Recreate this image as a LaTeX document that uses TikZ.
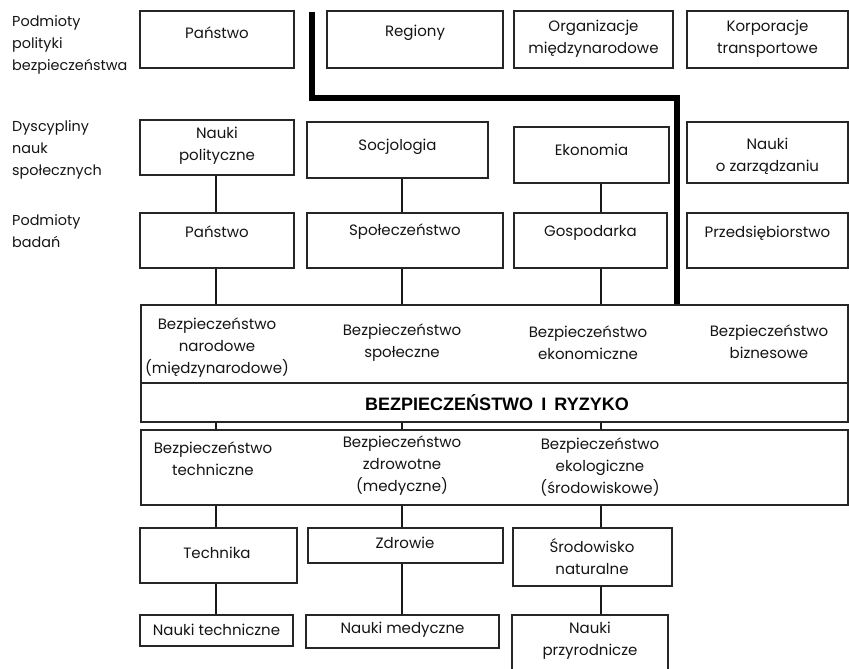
\documentclass[tikz,border=0pt]{standalone}
\usepackage{fontspec}
\setmainfont{Poppins}
\newfontfamily\headfont{Liberation Sans}
\begin{document}
\begin{tikzpicture}[x=1pt,y=-1pt,
  box/.style={draw=black!85, line width=1.1pt, inner sep=0pt},
  txt/.style={align=center, inner sep=0pt, text=black!92,
    font=\fontsize{15}{22}\selectfont},
  side/.style={txt, align=left, anchor=west,
    font=\fontsize{14.4}{22}\selectfont},
  conn/.style={draw=black!90, line width=2.7pt},
  spine/.style={draw=black, line width=5.5pt}]
\useasboundingbox (0,0) rectangle (849,669);
\clip (0,0) rectangle (849,669);

% column positions of the connectors
\coordinate (c1) at (216,0);
\coordinate (c2) at (402,0);
\coordinate (c3) at (601,0);

% row labels
\node[side] (l1) at (12,45) {Podmioty\\polityki\\bezpieczeństwa};
\node[side] (l2) at (12,150) {Dyscypliny\\nauk\\społecznych};
\node[side] (l3) at (12,231) {Podmioty\\badań};

% row 1: security policy actors
\node[box, minimum width=154, minimum height=57] (ps) at (217,39.5) {};
\node[txt] (ps-t) at (217,33) {Państwo};
\node[box, minimum width=176, minimum height=57] (reg) at (415,39.5) {};
\node[txt] (reg-t) at (415,33) {Regiony};
\node[box, minimum width=159, minimum height=57] (org) at (593.5,39.5) {};
\node[txt] (org-t) at (593.5,39) {Organizacje\\międzynarodowe};
\node[box, minimum width=161, minimum height=57] (kor) at (767.5,39.5) {};
\node[txt] (kor-t) at (767.5,39) {Korporacje\\transportowe};

% row 2: social science disciplines
\node[box, minimum width=154, minimum height=55] (np) at (217,147.5) {};
\node[txt] (np-t) at (217,146) {Nauki\\polityczne};
\node[box, minimum width=181, minimum height=56] (soc) at (397.5,150) {};
\node[txt] (soc-t) at (397.5,147) {Socjologia};
\node[box, minimum width=155, minimum height=56] (eko) at (591.5,155) {};
\node[txt] (eko-t) at (591.5,150) {Ekonomia};
\node[box, minimum width=161, minimum height=61] (nz) at (767.5,152.5) {};
\node[txt] (nz-t) at (767.5,156) {Nauki\\o zarządzaniu};

% row 3: research subjects
\node[box, minimum width=154, minimum height=55] (pa) at (217,240.5) {};
\node[txt] (pa-t) at (217,232) {Państwo};
\node[box, minimum width=196, minimum height=55] (spo) at (405,240.5) {};
\node[txt] (spo-t) at (405,232) {Społeczeństwo};
\node[box, minimum width=153, minimum height=55] (gos) at (590.5,240.5) {};
\node[txt] (gos-t) at (590.5,233) {Gospodarka};
\node[box, minimum width=161, minimum height=55] (prz) at (767.5,240.5) {};
\node[txt] (prz-t) at (767.5,233) {Przedsiębiorstwo};

% central band
\node[box, minimum width=707, minimum height=78] (bs) at (494.5,344) {};
\node[txt] (bs1) at (217,348) {Bezpieczeństwo\\narodowe\\(międzynarodowe)};
\node[txt] (bs2) at (402,343) {Bezpieczeństwo\\społeczne};
\node[txt] (bs3) at (588,343) {Bezpieczeństwo\\ekonomiczne};
\node[txt] (bs4) at (769,342) {Bezpieczeństwo\\biznesowe};
\node[box, minimum width=707, minimum height=39] (br) at (494.5,402.5) {};
\node[font=\headfont\bfseries\fontsize{18}{20}\selectfont, inner sep=0pt]
  (br-t) at (497,403) {BEZPIECZEŃSTWO\hspace{0.45em}I\hspace{0.45em}RYZYKO};
\node[box, minimum width=707, minimum height=75] (bl) at (494.5,467.5) {};
\node[txt] (bl1) at (213,459) {Bezpieczeństwo\\techniczne};
\node[txt] (bl2) at (402,466) {Bezpieczeństwo\\zdrowotne\\(medyczne)};
\node[txt] (bl3) at (600,467) {Bezpieczeństwo\\ekologiczne\\(środowiskowe)};

% row 4: domains
\node[box, minimum width=157, minimum height=55] (te) at (218.5,555.5) {};
\node[txt] (te-t) at (217,553) {Technika};
\node[box, minimum width=195, minimum height=35] (zd) at (405.5,545.5) {};
\node[txt] (zd-t) at (405,543) {Zdrowie};
\node[box, minimum width=159, minimum height=58] (sr) at (592.5,557) {};
\node[txt] (sr-t) at (592,557) {Środowisko\\naturalne};

% row 5: sciences
\node[box, minimum width=153, minimum height=31] (nt) at (216.5,630.5) {};
\node[txt] (nt-t) at (216.5,630) {Nauki techniczne};
\node[box, minimum width=193, minimum height=33] (nm) at (402.5,631.5) {};
\node[txt] (nm-t) at (402.5,630) {Nauki medyczne};
\node[box, minimum width=156, minimum height=75] (npz) at (590,652.5) {};
\node[txt] (npz-t) at (590,641) {Nauki\\przyrodnicze};

% connectors
\draw[conn] (np.south -| c1) -- (pa.north -| c1);
\draw[conn] (soc.south -| c2) -- (spo.north -| c2);
\draw[conn] (eko.south -| c3) -- (gos.north -| c3);
\draw[conn] (pa.south -| c1) -- (bs.north -| c1);
\draw[conn] (spo.south -| c2) -- (bs.north -| c2);
\draw[conn] (gos.south -| c3) -- (bs.north -| c3);
\draw[conn] (br.south -| c1) -- (bl.north -| c1);
\draw[conn] (br.south -| c2) -- (bl.north -| c2);
\draw[conn] (br.south -| c3) -- (bl.north -| c3);
\draw[conn] (bl.south -| c1) -- (te.north -| c1);
\draw[conn] (bl.south -| c2) -- (zd.north -| c2);
\draw[conn] (bl.south -| c3) -- (sr.north -| c3);
\draw[conn] (te.south -| c1) -- (nt.north -| c1);
\draw[conn] (zd.south -| c2) -- (nm.north -| c2);
\draw[conn] (sr.south -| c3) -- (npz.north -| c3);

% heavy dividing line
\coordinate (sptop) at (312,12);
\coordinate (spbend) at (677,98);
\draw[spine] (sptop) |- (spbend) -- (bs.north -| spbend);
\end{tikzpicture}
\end{document}
